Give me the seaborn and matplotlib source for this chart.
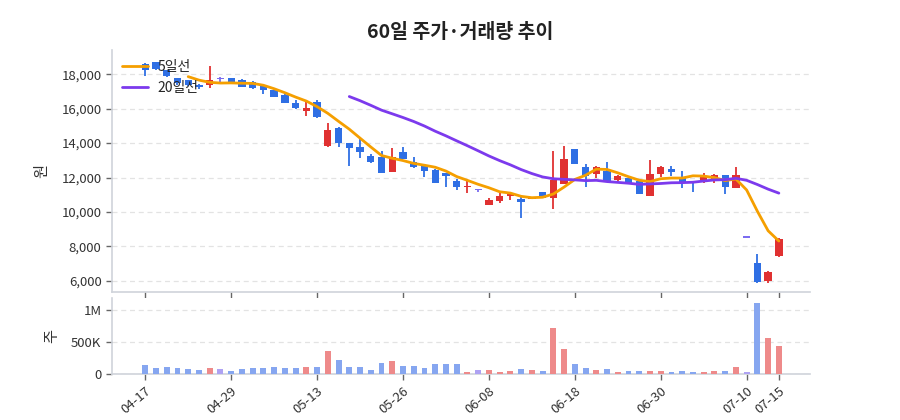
import matplotlib
matplotlib.use("Agg")
import matplotlib.pyplot as plt
import seaborn as sns
import pandas as pd
import numpy as np
from matplotlib.ticker import FuncFormatter, FixedLocator

dates = ["04-17", "04-18", "04-21", "04-22", "04-23", "04-24", "04-25", "04-28", "04-29",
         "04-30", "05-01", "05-02", "05-06", "05-07", "05-08", "05-12", "05-13",
         "05-14", "05-15", "05-16", "05-19", "05-20", "05-21", "05-23", "05-26",
         "05-27", "05-28", "05-29", "05-30", "06-02", "06-04", "06-05", "06-08",
         "06-09", "06-10", "06-11", "06-12", "06-13", "06-16", "06-17", "06-18",
         "06-19", "06-20", "06-23", "06-24", "06-25", "06-26", "06-27", "06-30",
         "07-01", "07-02", "07-03", "07-04", "07-07", "07-08", "07-09", "07-10",
         "07-11", "07-14", "07-15"]

opens = [18620, 18700, 18250, 17790, 17650, 17400, 17360, 17700, 17750, 17690,
         17560, 17320, 17070, 16780, 16300, 15860, 16400, 13820, 14900, 13980,
         13750, 13250, 13210, 12340, 13460, 12920, 12690, 12430, 12260, 11815,
         11445, 11250, 10410, 10660, 10950, 10735, 10760, 11150, 10835, 11620,
         13630, 12615, 12230, 12400, 11870, 11970, 11775, 10950, 12230, 12515,
         11970, 11780, 11870, 11930, 12160, 11390, 8500, 7050, 6020, 7440]
highs = [18650, 18720, 18270, 17800, 17680, 17450, 18460, 17830, 17780, 17700,
         17620, 17350, 17100, 16830, 16480, 16400, 16520, 15140, 14950, 14000,
         14270, 13340, 13540, 13690, 13750, 13210, 12750, 12500, 12270, 11930,
         11774, 11320, 10790, 11090, 11190, 10890, 10900, 11160, 13570, 13860,
         13640, 12790, 12650, 12905, 12170, 12050, 11790, 13040, 12650, 12650,
         12400, 11800, 12240, 12220, 12170, 12590, 8520, 7540, 6570, 8480]
lows = [17880, 18250, 17850, 17400, 17330, 17150, 17170, 17570, 17480, 17260,
        17150, 16840, 16680, 16300, 15980, 15560, 15430, 13800, 13750, 12680,
        13150, 12860, 12240, 12330, 13050, 12530, 12040, 11680, 11470, 11287,
        11090, 11190, 10390, 10500, 10700, 9665, 10750, 10830, 10150, 11610,
        12790, 11480, 11990, 11770, 11775, 11670, 11040, 10940, 12050, 12065,
        11385, 11190, 11700, 11700, 11030, 11380, 8480, 5890, 5900, 7400]
closes = [18270, 18300, 17900, 17460, 17360, 17260, 17650, 17700, 17500, 17270,
          17210, 17110, 16690, 16340, 16010, 16050, 15490, 14750, 14020, 13730,
          13460, 12920, 12280, 13210, 13070, 12630, 12390, 11700, 12100, 11478,
          11520, 11250, 10700, 10935, 11090, 10580, 10855, 10835, 11870, 13100,
          12800, 12065, 12615, 11775, 12120, 11675, 11050, 12200, 12615, 12320,
          11675, 11700, 12120, 12170, 11445, 12160, 8500, 5955, 6505, 8460]
volumes = [140000, 94000, 115000, 99000, 78000, 62000, 99000, 78000, 52000, 78000,
           94000, 94000, 109000, 94000, 94000, 115000, 115000, 359000, 219000, 115000,
           109000, 68000, 177000, 208000, 125000, 130000, 89000, 156000, 156000, 156000,
           36000, 62000, 68000, 36000, 47000, 83000, 62000, 47000, 719000, 396000,
           161000, 99000, 62000, 78000, 31000, 47000, 52000, 52000, 47000, 36000,
           47000, 36000, 36000, 52000, 47000, 109000, 31000, 1115000, 557000, 437000]

sns.set_theme(style="white")
plt.rcParams['font.family'] = ['Noto Sans CJK KR', 'DejaVu Sans']

df = pd.DataFrame(dict(date=dates, open=opens, high=highs, low=lows,
                       close=closes, volume=volumes))
df['idx'] = np.arange(len(df))
df['dir'] = np.where(df.close > df.open, 'up',
                     np.where(df.close < df.open, 'down', 'flat'))
df['ma5'] = df.close.rolling(5).mean()
df['ma20'] = df.close.rolling(20).mean()

candle_col = {'up': '#e03131', 'down': '#2f6fe4', 'flat': '#7b6cf0'}
vol_col = {'up': '#ee8a8a', 'down': '#86a6f0', 'flat': '#aea2f3'}

fig = plt.figure(figsize=(9, 4.2), dpi=100)
ax = fig.add_axes([0.1244, 0.3048, 0.7756, 0.576])
axv = fig.add_axes([0.1244, 0.1095, 0.7756, 0.181], sharex=ax)

# candles
cols = df['dir'].map(candle_col)
ax.vlines(df.idx, df.low, df.high, colors=cols, lw=1.3, zorder=2)
body_low = np.minimum(df.open, df.close)
body_h = np.maximum(np.abs(df.close - df.open), 90)
ax.bar(df.idx, body_h, bottom=body_low, width=0.68, color=cols, zorder=3,
       linewidth=0)

sns.lineplot(data=df, x='idx', y='ma5', ax=ax, color='#f59f00', lw=2,
             label='5일선', zorder=4)
sns.lineplot(data=df, x='idx', y='ma20', ax=ax, color='#7c3aed', lw=2,
             label='20일선', zorder=4)

ax.set_xlim(-3.1, 61.9)
ax.set_ylim(5360, 19400)
ax.yaxis.set_major_locator(FixedLocator([6000, 8000, 10000, 12000, 14000, 16000, 18000]))
ax.yaxis.set_major_formatter(FuncFormatter(lambda v, p: f'{int(v):,}'))
ax.grid(axis='y', ls=(0, (4, 3)), color='#e3e3e3', lw=0.9)
ax.set_axisbelow(True)
ax.set_xlabel('')
ax.set_ylabel('원', fontsize=11, color='#333333', labelpad=8)
leg = ax.legend(loc='upper left', frameon=False, fontsize=10,
                handlelength=1.9, borderaxespad=0.3, labelspacing=0.5,
                handletextpad=0.7)

# volume
axv.bar(df.idx, df.volume, width=0.55, color=df['dir'].map(vol_col),
        linewidth=0, zorder=3)
axv.set_ylim(0, 1187000)
axv.yaxis.set_major_locator(FixedLocator([0, 500000, 1000000]))
axv.yaxis.set_major_formatter(FuncFormatter(
    lambda v, p: '0' if v == 0 else (f'{v/1e6:g}M' if v >= 1e6 else f'{v/1e3:g}K')))
axv.grid(axis='y', ls=(0, (4, 3)), color='#e3e3e3', lw=0.9)
axv.set_axisbelow(True)
axv.set_xlabel('')
axv.set_ylabel('주', fontsize=11, color='#333333', labelpad=8)

tick_idx = [0, 8, 16, 24, 32, 40, 48, 56, 59]
axv.set_xticks(tick_idx)
axv.set_xticklabels([dates[i] for i in tick_idx], rotation=40, ha='right',
                    rotation_mode='anchor')
axv.set_xlim(-3.1, 61.9)
plt.setp(ax.get_xticklabels(), visible=False)

for a in (ax, axv):
    for s in ('top', 'right'):
        a.spines[s].set_visible(False)
    for s in ('left', 'bottom'):
        a.spines[s].set_color('#cfd3da')
        a.spines[s].set_linewidth(1.2)
    a.tick_params(axis='both', which='major', length=4, width=1,
                  color='#666666', labelsize=9.5, labelcolor='#333333',
                  left=True, bottom=True)

fig.text(0.511, 0.922, '60일 주가·거래량 추이', ha='center', va='center',
         fontsize=14, fontweight='bold', color='#222222')

fig.savefig('out.png', dpi=100)
